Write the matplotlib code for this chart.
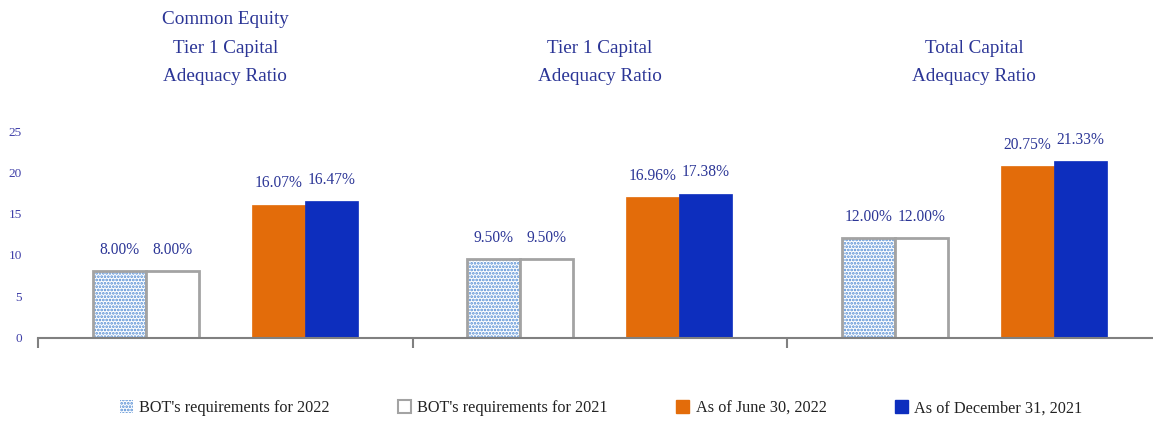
import matplotlib
matplotlib.use("Agg")
import matplotlib.pyplot as plt
import matplotlib.transforms as mtransforms
from matplotlib.patches import Patch
import numpy as np

plt.rcParams['hatch.linewidth'] = 1.3

categories = ["Common Equity\nTier 1 Capital\nAdequacy Ratio",
              "Tier 1 Capital\nAdequacy Ratio",
              "Total Capital\nAdequacy Ratio"]
series_names = ["BOT's requirements for 2022", "BOT's requirements for 2021",
                "As of June 30, 2022", "As of December 31, 2021"]
req_2022 = [8.00, 9.50, 12.00]
req_2021 = [8.00, 9.50, 12.00]
jun_2022 = [16.07, 16.96, 20.75]
dec_2021 = [16.47, 17.38, 21.33]
yticks = [0, 5, 10, 15, 20, 25]

navy = '#2B3596'
tick_col = '#3F3FA8'
gray = '#A3A3A3'
orange = '#E36C0A'
blue = '#0D2EBE'
dot_blue = '#4F8AD3'

W, H = 1153, 421
fig = plt.figure(figsize=(W / 100, H / 100), dpi=100)
left = 38 / W
right = 1161.5 / W
bottom = (H - 337.5) / H
top = (H - 131) / H
ax = fig.add_axes([left, bottom, right - left, top - bottom])

x = np.arange(len(categories))
w = 0.1415
serif = 'Liberation Serif'

b1 = ax.bar(x - 2 * w, req_2022, w, facecolor='white', edgecolor=dot_blue,
            hatch='.....', linewidth=0)
ax.bar(x - 2 * w, req_2022, w, facecolor='none', edgecolor=gray, linewidth=2)
b2 = ax.bar(x - w, req_2021, w, facecolor='white', edgecolor=gray, linewidth=2)
b3 = ax.bar(x + w, jun_2022, w, facecolor=orange, edgecolor=orange, linewidth=0.5)
b4 = ax.bar(x + 2 * w, dec_2021, w, facecolor=blue, edgecolor=blue, linewidth=0.5)

for bars, vals in [(b1, req_2022), (b2, req_2021), (b3, jun_2022), (b4, dec_2021)]:
    for rect, v in zip(bars, vals):
        ax.annotate(f"{v:.2f}%", (rect.get_x() + rect.get_width() / 2, v),
                    xytext=(0, 15.5), textcoords='offset points',
                    ha='center', va='center', fontsize=11.2, color=navy,
                    family=serif)

ax.set_xlim(-0.5, 2.5)
ax.set_ylim(0, 25)
ax.set_yticks(yticks)
ax.set_yticklabels([str(t) for t in yticks], family=serif, fontsize=9.5, color=tick_col)
ax.tick_params(axis='y', length=0, pad=11.5)
ax.set_xticks([-0.5, 0.5, 1.5, 2.5])
ax.set_xticklabels([])
ax.tick_params(axis='x', direction='out', length=7, width=1.5, color='#808080')
for s in ['top', 'right', 'left']:
    ax.spines[s].set_visible(False)
ax.spines['bottom'].set_color('#808080')
ax.spines['bottom'].set_linewidth(1.5)

trans = mtransforms.blended_transform_factory(ax.transData, fig.transFigure)
for i, c in enumerate(categories):
    fig.text(i, (H - 85) / H, c, transform=trans, ha='center', va='bottom',
             fontsize=13.8, color=navy, family=serif, linespacing=1.87,
             multialignment='center')

handles = [Patch(facecolor='white', edgecolor=dot_blue, hatch='.....', linewidth=0),
           Patch(facecolor='white', edgecolor=gray, linewidth=1.5),
           Patch(facecolor=orange, edgecolor=orange),
           Patch(facecolor=blue, edgecolor=blue)]
leg = fig.legend(handles, series_names, ncol=4, loc='center',
                 bbox_to_anchor=(601 / W, (H - 408) / H), frameon=False,
                 prop={'family': serif, 'size': 11.7}, handlelength=0.8,
                 handleheight=0.9, handletextpad=0.4, columnspacing=4.2)
for t in leg.get_texts():
    t.set_color('#222222')

fig.savefig('out.png', dpi=100)
